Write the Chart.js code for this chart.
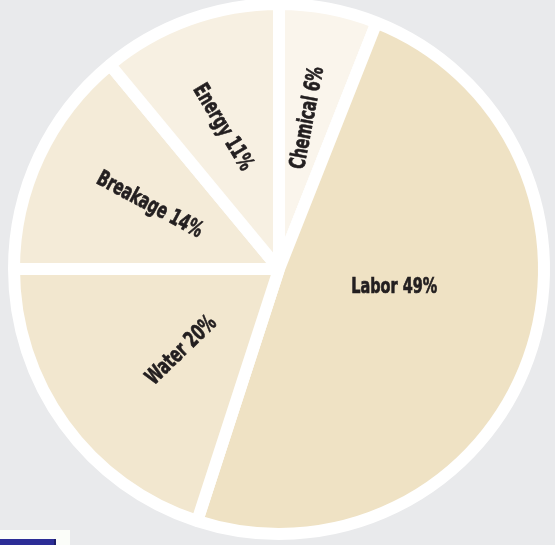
<!DOCTYPE html>
<html>
<head>
<meta charset="utf-8">
<script src="https://cdn.jsdelivr.net/npm/chart.js@4.4.1/dist/chart.umd.min.js"></script>
<style>
    html, body { margin: 0; padding: 0; background: #e9eaec; }
    #wrap { position: relative; width: 555px; height: 545px; overflow: hidden; }
    #corner { position: absolute; left: 0; top: 530px; width: 70px; height: 15px; background: #fbfdf9; }
    #corner div { position: absolute; left: 0; top: 9px; width: 54px; height: 6px; background: #2c2d96; border-right: 2px solid #1d1e6a; }
</style>
</head>
<body>
<div id="wrap">
    <canvas id="costChart" width="555" height="545"></canvas>
    <div id="corner"><div></div></div>
</div>
<script>
const categories = ['Chemical', 'Labor', 'Water', 'Breakage', 'Energy'];
const shares = [6, 49, 20, 14, 11];   // percent of cost

const sliceColors = ['#faf5ec', '#efe2c4', '#f2e7cf', '#f4ebd8', '#f7f0e2'];
// label placement: fraction of radius, angle nudge and text tilt nudge (deg)
const labelRadius = [0.58, 0.44, 0.48, 0.545, 0.575];
const labelNudge = [0, -11, -4, 1, -2];
const tiltNudge = [0, 0, -4, 2, -9];

const labelPlugin = {
    id: 'sliceLabels',
    afterDatasetsDraw(chart) {
        const ctx = chart.ctx;
        const arcs = chart.getDatasetMeta(0).data;
        ctx.save();
        ctx.fillStyle = '#231f20';
        ctx.strokeStyle = '#231f20';
        ctx.lineWidth = 0.7;
        ctx.font = 'bold 22px "Liberation Sans Narrow", "DejaVu Sans Condensed", sans-serif';
        ctx.textAlign = 'center';
        ctx.textBaseline = 'middle';
        arcs.forEach((arc, i) => {
            const text = categories[i] + ' ' + shares[i] + '%';
            const mid = (arc.startAngle + arc.endAngle) / 2 + labelNudge[i] * Math.PI / 180;
            const r = arc.outerRadius * labelRadius[i];
            const x = arc.x + Math.cos(mid) * r;
            const y = arc.y + Math.sin(mid) * r;
            let rot = mid;
            if (Math.cos(rot) < 0) rot += Math.PI;   // keep text left-to-right
            if (i === 1) rot = 0;                      // big slice label sits flat
            rot += tiltNudge[i] * Math.PI / 180;
            ctx.save();
            ctx.translate(x, y);
            ctx.rotate(rot);
            ctx.scale(0.73, 1);
            ctx.fillText(text, 0, 0);
            ctx.strokeText(text, 0, 0);
            ctx.restore();
        });
        ctx.restore();
    }
};

const ringPlugin = {
    id: 'whiteRing',
    beforeDatasetsDraw(chart) {
        const arc = chart.getDatasetMeta(0).data[0];
        const ctx = chart.ctx;
        ctx.save();
        ctx.fillStyle = '#ffffff';
        ctx.beginPath();
        ctx.arc(arc.x, arc.y, arc.outerRadius + 5, 0, Math.PI * 2);
        ctx.fill();
        ctx.restore();
    }
};

new Chart(document.getElementById('costChart').getContext('2d'), {
    type: 'pie',
    data: {
        labels: categories,
        datasets: [{
            data: shares,
            backgroundColor: sliceColors,
            borderColor: '#ffffff',
            borderWidth: 12
        }]
    },
    options: {
        responsive: false,
        animation: false,
        radius: 265,
        layout: { padding: { left: 3, right: 0, top: 0, bottom: 7 } },
        plugins: {
            legend: { display: false },
            tooltip: { enabled: false }
        }
    },
    plugins: [ringPlugin, labelPlugin]
});
</script>
</body>
</html>
